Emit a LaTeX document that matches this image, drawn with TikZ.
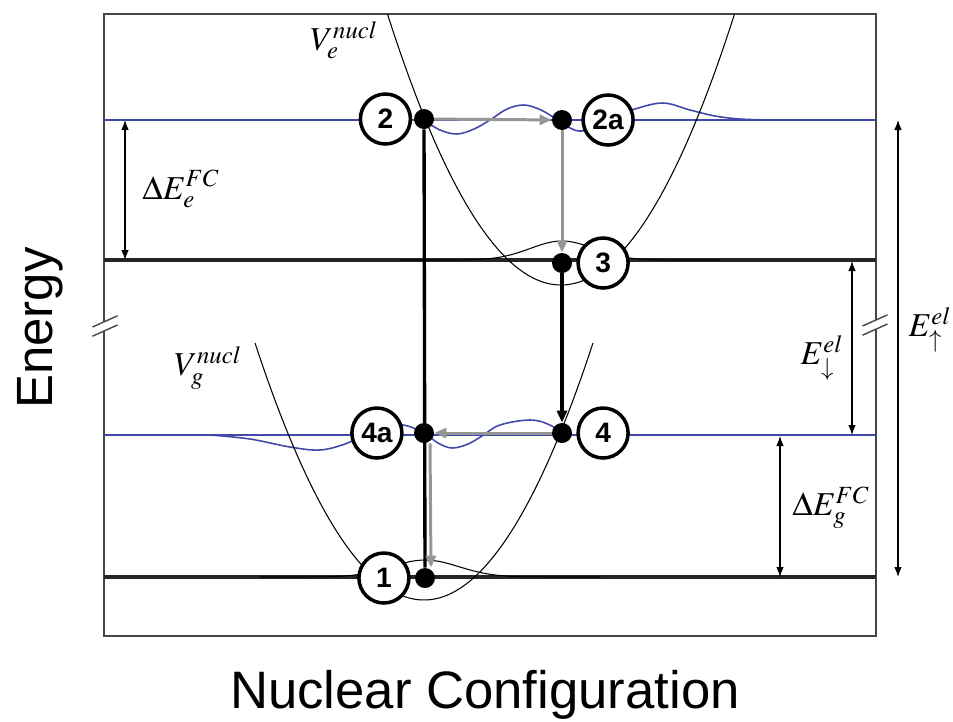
\documentclass[tikz,border=0pt]{standalone}
\usepackage{mathptmx}
\usepackage{fontspec}
\setsansfont{Liberation Sans}
\usepackage{tikz}
\usetikzlibrary{arrows.meta,positioning}
\definecolor{levelblue}{RGB}{64,72,170}
\definecolor{trackgray}{RGB}{150,150,150}
\definecolor{framegray}{RGB}{70,70,70}

\begin{document}
\begin{tikzpicture}[x=0.02cm, y=-0.02cm, node distance=0.08cm,
  level/.style={line width=1.8pt, black!85},
  bluelevel/.style={line width=0.9pt, levelblue},
  wave/.style={line width=0.9pt, levelblue},
  curve/.style={line width=0.6pt},
  state/.style={draw, circle, line width=2pt, fill=white, minimum size=1cm, inner sep=0pt, font=\sffamily\bfseries\fontsize{16}{16}\selectfont},
  dot/.style={circle, fill=black, minimum size=0.4cm, inner sep=0pt},
  relax/.style={-{Triangle[length=2.4mm,width=2mm]}, line width=1.7pt, trackgray},
  trans/.style={line width=1.9pt},
  dim/.style={{Latex[length=2mm,width=1.5mm]}-{Latex[length=2mm,width=1.5mm]}, line width=0.6pt},
  lab/.style={font=\fontsize{19}{21}\selectfont}]
\useasboundingbox (0,0) rectangle (953,721);

% frame and levels
\draw[framegray, line width=1.1pt] (104,14) rectangle (876,636);
\draw[bluelevel] (104,120) -- (876,120);
\draw[level] (104,260) -- (876,260);
\draw[bluelevel] (104,435) -- (876,435);
\draw[level] (104,577) -- (876,577);

% vibrational wavefunctions
\draw[wave] plot[smooth, tension=0.6] coordinates {(424,120) (440,130) (457,134) (474,129) (490,120) (507,109) (524,105) (541,110) (556,119) (570,128) (582,131) (600,126) (617,116) (635,109) (663,103) (690,110) (715,116) (740,119) (770,120)};
\draw[wave] plot[smooth, tension=0.6] coordinates {(210,435) (250,439) (290,447) (320,450) (345,444) (362,436) (382,428) (403,425) (424,433) (438,443) (452,448) (468,444) (482,436) (500,425) (530,420) (550,425) (563,435)};
\draw[curve] plot[domain=400:720, samples=60] (\x, {260-19*exp(-((\x-562)/45)^2)});
\draw[curve] plot[domain=260:600, samples=60] (\x, {577-17*exp(-((\x-425)/48)^2)});

% potential curves
\draw[curve] plot[domain=387.6:734.4, samples=80] (\x, {285-(0.09487*(\x-561))^2});
\draw[curve] plot[domain=255:593, samples=80] (\x, {600-(0.09487*(\x-424))^2});

\node[dot] (d2) at (424,119) {};
\node[dot] (d2a) at (562,120) {};
\node[dot] (d3) at (562,263) {};
\node[dot] (d4) at (562,433) {};
\node[dot] (d4a) at (424,433) {};
\node[dot] (d1) at (425,578) {};

\draw[trans] (d1) -- (d2);
\draw[relax] (d2) -- (d2a);
\draw[relax] (d2a) -- (d3);
\draw[trans, -{Triangle[length=2.4mm,width=2mm]}] (d3) -- (d4);
\draw[relax] (d4) -- (d4a);
\draw[relax] ([xshift=0.12cm]d4a.south) -- ([xshift=0.12cm]d1.north);

\node[state, left=0.03cm of d2] (s2) {2};
\node[state, right=0.18cm of d2a] (s2a) {2a};
\node[state, right=of d3] (s3) {3};
\node[state, right=of d4] (s4) {4};
\node[state, left=0.2cm of d4a] (s4a) {4a};
\node[state, left=of d1] (s1) {1};

% energy gaps
\coordinate (eFCtop) at (125,120);
\coordinate (eFCbot) at (125,260);
\coordinate (downtop) at (852,261);
\coordinate (downbot) at (852,435);
\coordinate (gFCtop) at (780,436);
\coordinate (gFCbot) at (780,577);
\coordinate (uptop) at (898,120);
\coordinate (upbot) at (898,577);
\draw[dim] (eFCtop) -- (eFCbot);
\draw[dim] (downtop) -- (downbot);
\draw[dim] (gFCtop) -- (gFCbot);
\draw[dim] (uptop) -- (upbot);

\node[lab] (ldEe) at (181,189) {$\Delta E_e^{FC}$};
\node[lab] (lEdown) at (822,358) {$E_\downarrow^{el}$};
\node[lab] (ldEg) at (831,508) {$\Delta E_g^{FC}$};
\node[lab] (lEup) at (930,330) {$E_\uparrow^{el}$};
\node[lab] (lVe) at (344,40) {$V_e^{nucl}$};
\node[lab] (lVg) at (208,368) {$V_g^{nucl}$};

% axis breaks
\foreach \bx/\by in {105/326, 875/325} {
  \begin{scope}[shift={(\bx,\by)}]
    \fill[white] (-12.5,1) -- (12.5,-10.2) -- (12.5,-1) -- (-12.5,10.2) -- cycle;
    \draw[framegray, line width=0.8pt] (-12.5,1) -- (12.5,-10.2) (-12.5,10.2) -- (12.5,-1);
  \end{scope}
}

\node[rotate=90, anchor=base, font=\sffamily\fontsize{29}{29}\selectfont] (yaxis) at (52,328) {Energy};
\node[anchor=base, font=\sffamily\fontsize{30}{30}\selectfont] (xaxis) at (485,708) {Nuclear Configuration};
\end{tikzpicture}
\end{document}
